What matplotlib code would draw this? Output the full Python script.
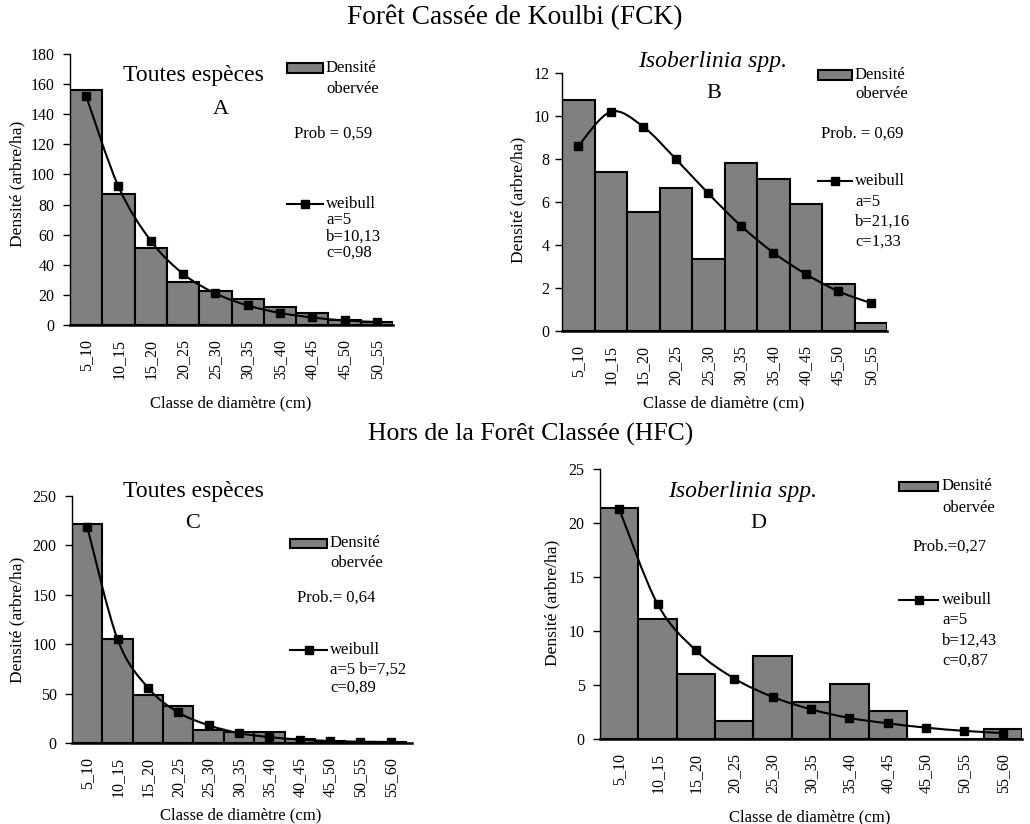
import matplotlib
matplotlib.use("Agg")
import matplotlib.pyplot as plt
import numpy as np
from matplotlib.path import Path
from matplotlib.patches import PathPatch, Rectangle
from matplotlib.lines import Line2D

plt.rcParams['font.family'] = ['Liberation Serif', 'DejaVu Serif']

W, H = 1030, 824

# diameter classes
classes_10 = ["5_10", "10_15", "15_20", "20_25", "25_30",
              "30_35", "35_40", "40_45", "45_50", "50_55"]
classes_11 = classes_10 + ["55_60"]

# observed density / weibull fit (arbre/ha)
obs_a = [156, 87, 51, 28.5, 22.5, 17, 12, 8, 3, 2]
wei_a = [152, 92, 56, 34, 21, 13, 8, 5, 3, 2]

obs_b = [10.75, 7.4, 5.55, 6.65, 3.35, 7.8, 7.05, 5.9, 2.2, 0.35]
wei_b = [8.6, 10.2, 9.5, 8.0, 6.4, 4.9, 3.65, 2.65, 1.85, 1.3]

obs_c = [222, 105, 49, 37, 13, 11, 11, 4, 2, 1, 1]
wei_c = [219, 105, 56, 31, 18, 10, 6, 3.5, 2, 1.3, 1]

obs_d = [21.4, 11.1, 6.0, 1.7, 7.7, 3.4, 5.1, 2.6, 0, 0, 0.9]
wei_d = [21.3, 12.5, 8.2, 5.6, 3.9, 2.75, 1.95, 1.45, 1.05, 0.75, 0.55]

FS = 12

fig = plt.figure(figsize=(W / 100, H / 100), dpi=100)


def px(x, y):
    return (x / W, 1 - y / H)


def smooth_path(xs, ys, t=1 / 6):
    # bezier smoothing like a spreadsheet "smoothed line"
    pts = np.column_stack([xs, ys]).astype(float)
    verts = [pts[0]]
    codes = [Path.MOVETO]
    n = len(pts)
    for i in range(n - 1):
        p0 = pts[max(i - 1, 0)]
        p1 = pts[i]
        p2 = pts[i + 1]
        p3 = pts[min(i + 2, n - 1)]
        verts += [p1 + (p2 - p0) * t, p2 - (p3 - p1) * t, p2]
        codes += [Path.CURVE4] * 3
    return Path(verts, codes)


def panel(box, classes, obs, wei, ymax, ystep, xextra, ypad):
    left, top, right, bottom = box
    ax = fig.add_axes([left / W, 1 - bottom / H, (right - left) / W, (bottom - top) / H])
    x = np.arange(len(classes))
    ax.bar(x, obs, width=1.0, color='#808080', edgecolor='black', linewidth=1.5, zorder=2)
    ax.add_patch(PathPatch(smooth_path(x, wei), fill=False, edgecolor='black', lw=1.5, zorder=3))
    ax.plot(x, wei, linestyle='none', marker='s', ms=5.5, color='black', zorder=4)
    ax.set_xlim(-0.5, len(classes) - 0.5 + xextra)
    ax.set_ylim(0, ymax)
    ax.set_yticks(np.arange(0, ymax + 0.1, ystep))
    ax.set_xticks(x)
    ax.set_xticklabels(classes, rotation=90, va='top', ha='center')
    ax.tick_params(axis='x', length=0, pad=10, labelsize=11.5)
    ax.tick_params(axis='y', length=5, width=1, pad=ypad, labelsize=11.5)
    for s in ['top', 'right']:
        ax.spines[s].set_visible(False)
    ax.spines['left'].set_linewidth(1)
    ax.spines['bottom'].set_linewidth(1.8)
    ax.spines['bottom'].set_zorder(5)
    return ax


def legend(bx0, bx1, by, tx, obs_y2, prob, prob_x, prob_y, ly, params, pys):
    fig.patches.append(Rectangle(px(bx0, by + 4.5), (bx1 - bx0) / W, 9 / H,
                                 transform=fig.transFigure, facecolor='#808080',
                                 edgecolor='black', lw=1.5))
    fig.text(*px(tx, by), "Densité", fontsize=FS, va='center', ha='left')
    fig.text(*px(tx, obs_y2), "obervée", fontsize=FS, va='center', ha='left')
    fig.text(*px(prob_x, prob_y), prob, fontsize=FS, va='center', ha='center')
    fig.lines.append(Line2D([bx0 / W, bx1 / W], [1 - ly / H] * 2, transform=fig.transFigure,
                            color='black', lw=1.5))
    fig.lines.append(Line2D([(bx0 + bx1) / 2 / W], [1 - ly / H], transform=fig.transFigure,
                            color='black', marker='s', ms=5.5))
    fig.text(*px(tx, ly), "weibull", fontsize=FS, va='center', ha='left')
    for p, y in zip(params, pys):
        fig.text(*px(tx, y), p, fontsize=FS, va='center', ha='left')


def ylabel(xpx, ypx):
    fig.text(*px(xpx, ypx), "Densité (arbre/ha)", fontsize=12.5, rotation=90,
             ha='center', va='center')


def xlabel(xpx, ypx):
    fig.text(*px(xpx, ypx), "Classe de diamètre (cm)", fontsize=FS, va='center', ha='center')


# suptitles
fig.text(*px(515, 17), "Forêt Cassée de Koulbi (FCK)", fontsize=19.7, ha='center', va='center')
fig.text(*px(531, 434), "Hors de la Forêt Classée (HFC)", fontsize=18.5, ha='center', va='center')

# A
ax = panel((70, 54, 393, 325), classes_10, obs_a, wei_a, 180, 20, 0, 6)
ylabel(17, 184)
xlabel(231, 403)
fig.text(*px(193, 76), "Toutes espèces", fontsize=17, ha='center', va='center')
fig.text(*px(221, 109), "A", fontsize=16, ha='center', va='center')
legend(287, 323, 68, 326, 89, "Prob = 0,59", 333, 134, 204,
       ["a=5", "b=10,13", "c=0,98"], [220, 237, 253])

# B
ax = panel((562, 73, 887, 331), classes_10, obs_b, wei_b, 12, 2, 0, 4)
ylabel(518, 200)
xlabel(724, 403)
fig.text(*px(713, 62), "Isoberlinia spp.", fontsize=17, style='italic', ha='center', va='center')
fig.text(*px(714, 94), "B", fontsize=16, ha='center', va='center')
legend(818, 852, 75, 855, 94, "Prob. = 0,69", 862, 134, 181,
       ["a=5", "b=21,16", "c=1,33"], [202, 222, 242])

# C
ax = panel((72, 496, 412, 743), classes_11, obs_c, wei_c, 250, 50, 0.2, 6)
ylabel(17, 620)
xlabel(241, 815)
fig.text(*px(193, 491), "Toutes espèces", fontsize=17, ha='center', va='center')
fig.text(*px(193, 523), "C", fontsize=16, ha='center', va='center')
legend(290, 327, 543, 330, 563, "Prob.= 0,64", 336, 598, 650,
       ["a=5 b=7,52", "c=0,89"], [670, 688])

# D
ax = panel((600, 469, 1022, 739), classes_11, obs_d, wei_d, 25, 5, 0, 6)
ylabel(552, 603)
xlabel(810, 817)
fig.text(*px(743, 492), "Isoberlinia spp.", fontsize=17, style='italic', ha='center', va='center')
fig.text(*px(758, 523), "D", fontsize=16, ha='center', va='center')
legend(899, 938, 486, 942, 508, "Prob.=0,27", 950, 547, 600,
       ["a=5", "b=12,43", "c=0,87"], [620, 641, 661])

fig.savefig("out.png", dpi=100)
